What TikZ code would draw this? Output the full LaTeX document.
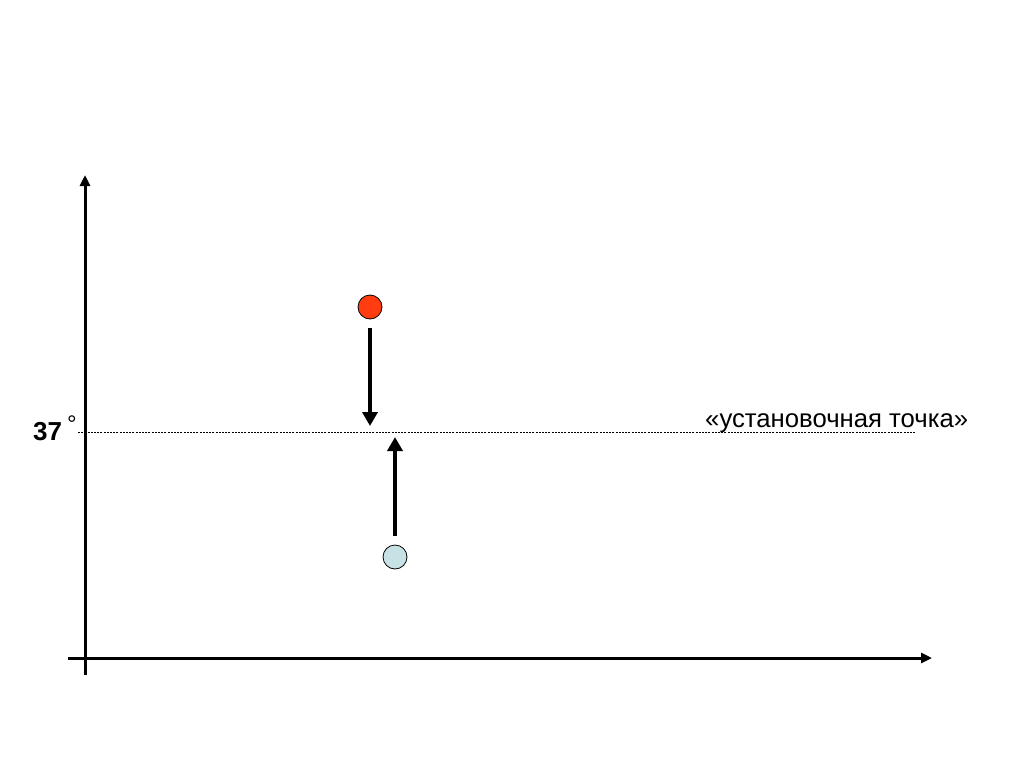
\documentclass[tikz,border=0pt]{standalone}
\usepackage{fontspec}
\setmainfont{Liberation Sans}
\usetikzlibrary{arrows.meta}
\definecolor{hot}{HTML}{FF3D10}
\definecolor{cold}{HTML}{C6E2E4}
\begin{document}
\begin{tikzpicture}[x=1pt,y=-1pt,
  axis/.style={line width=3pt,-{Triangle[length=11pt,width=10pt]}},
  move/.style={line width=4.5pt,-{Triangle[length=14pt,width=15pt]}},
  ball/.style={circle,draw=black,line width=0.8pt,minimum size=24pt,inner sep=0pt},
  lbl/.style={font=\fontsize{25.7}{28}\selectfont,inner sep=0pt}]
\useasboundingbox (0,0) rectangle (1024,768);
\coordinate (yb) at (85,675);
\coordinate (yt) at (85,175);
\coordinate (xl) at (68,658);
\coordinate (xr) at (932,658);
\draw[axis] (yb) -- (yt);
\draw[axis] (xl) -- (xr);
\coordinate (dl) at (78,432);
\coordinate (dr) at (915,432);
\draw[line width=0.8pt,dash pattern=on 2pt off 1.2pt] (dl) -- (dr);
\node[ball,fill=hot] (hot) at (370,307) {};
\node[ball,fill=cold] (cold) at (395,557) {};
\coordinate (ha) at (370,328);
\coordinate (hb) at (370,426);
\coordinate (ca) at (395,536);
\coordinate (cb) at (395,437);
\draw[move] (ha) -- (hb);
\draw[move] (ca) -- (cb);
\node[lbl,anchor=base west,font=\fontsize{26}{28}\selectfont\bfseries] (t37) at (33,440) {37};
\node[lbl,anchor=base west,font=\fontsize{24}{28}\selectfont] (deg) at (67,432) {°};
\node[lbl,anchor=base west] (sp) at (705,427) {«установочная точка»};
\end{tikzpicture}
\end{document}
